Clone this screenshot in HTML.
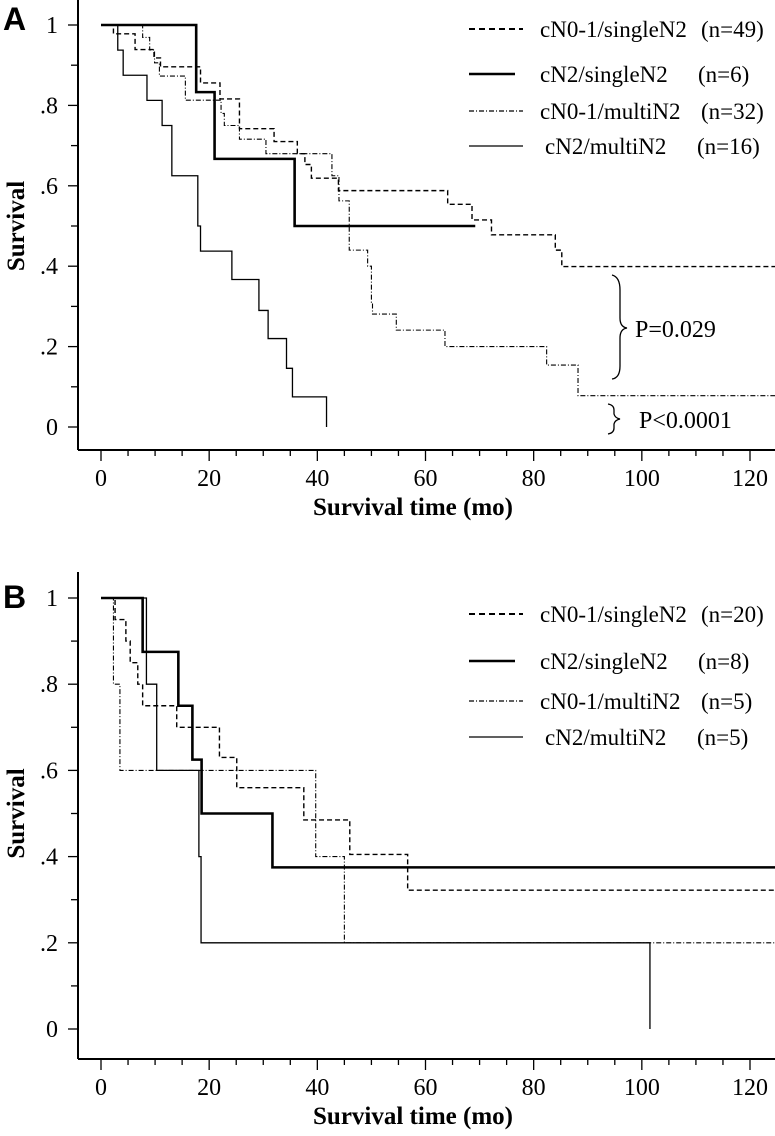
<!DOCTYPE html>
<html><head><meta charset="utf-8">
<style>
html,body{margin:0;padding:0;background:#fff;}
svg{display:block;}
text{font-family:"Liberation Serif",serif;fill:#000;}
.pl{font-family:"Liberation Sans",sans-serif;font-weight:bold;}
</style></head>
<body>
<svg id="chart" width="775" height="1136" viewBox="0 0 775 1136"></svg>
<script>
// ---- Panel A data ----
const aTickLabelsX = [0,20,40,60,80,100,120];
const aTickLabelsY = ["0",".2",".4",".6",".8","1"];
const aSinglN01_t = [0,2.3,6.3,9.8,11,18.4,22,25.6,32,36.3,37.7,38.9,43.9,64.1,68.6,72.2,84,85.2,125];
const aSinglN01_s = [1,.978,.939,.918,.896,.856,.816,.742,.71,.68,.653,.619,.588,.554,.515,.478,.44,.399,.399];
const aSingleN2_t = [0,17.6,21,35.8,69.2];
const aSingleN2_s = [1,.833,.667,.5,.5];
const aMultiN01_t = [0,7.7,9,9.9,10.8,15.6,22.2,22.8,25.6,30.5,42.7,44,45.9,49.3,50,50.2,54.6,63.6,82.4,88.2,125];
const aMultiN01_s = [1,.969,.938,.906,.873,.813,.78,.75,.716,.68,.625,.5625,.44,.40,.31,.281,.241,.2,.154,.078,.078];
const aMultiN2_t = [0,3.1,4.1,8.5,11.3,13.1,17.9,18.4,24.2,29.2,30.9,34.3,35.4,41.7,41.7];
const aMultiN2_s = [1,.9375,.875,.8125,.75,.625,.5,.4375,.367,.29,.22,.146,.075,.075,0];
// ---- Panel B data ----
const bSinglN01_t = [0,2.6,4.6,5.4,6.8,7.7,14,21.9,25.1,37.5,46,56.7,125];
const bSinglN01_s = [1,.95,.90,.85,.80,.75,.70,.63,.56,.485,.405,.322,.322];
const bSingleN2_t = [0,7.7,14.3,16.9,18.6,31.7,125];
const bSingleN2_s = [1,.875,.75,.625,.5,.375,.375];
const bMultiN01_t = [0,2.3,3.5,39.7,45,125];
const bMultiN01_s = [1,.8,.6,.4,.2,.2];
const bMultiN2_t = [0,8.4,10.3,18.1,18.5,101.5,101.5];
const bMultiN2_s = [1,.8,.6,.4,.2,.2,0];

const NS="http://www.w3.org/2000/svg";
const svg=document.getElementById('chart');
function mk(tag,attrs,parent){const e=document.createElementNS(NS,tag);for(const k in attrs)e.setAttribute(k,attrs[k]);(parent||svg).appendChild(e);return e;}

const STY={
 singN01:{w:1.4,dash:"5,3"},
 singN2:{w:2.6,dash:""},
 multN01:{w:1.1,dash:"5,2,1,2"},
 multN2:{w:1.3,dash:""}
};

function panel(cfg){
  const g=mk('g',{});
  
  
  const xs=t=>101+t*(649/120);
  const ys=s=>cfg.y0-(cfg.y0-cfg.y1)*s;
  const ya=mk('line',{x1:78,y1:cfg.axTop,x2:78,y2:cfg.axBot,stroke:'#000','stroke-width':2},g);
  
  const xa=mk('line',{x1:78,y1:cfg.axBot,x2:775,y2:cfg.axBot,stroke:'#000','stroke-width':2},g);
  
  for(let i=0;i<=10;i++){const y=ys(i/10);mk('line',{x1:i%2?71:68,y1:y,x2:78,y2:y,stroke:'#000','stroke-width':1.3},g);}
  aTickLabelsY.forEach((l,i)=>{const t=mk('text',{x:58,y:ys(i*0.2)+8,'font-size':24,'text-anchor':'end'},g);t.textContent=l;
    });
  for(let m=0;m<=120;m+=5){const x=xs(m);mk('line',{x1:x,y1:cfg.axBot,x2:x,y2:cfg.axBot+(m%20?6:11),stroke:'#000','stroke-width':1.3},g);}
  aTickLabelsX.forEach(v=>{const t=mk('text',{x:xs(v),y:cfg.axBot+36,'font-size':24,'text-anchor':'middle'},g);t.textContent=v;
    });
  const yt=mk('text',{x:0,y:0,'font-size':25,'font-weight':'bold','text-anchor':'middle',transform:`translate(24,${(cfg.y0+cfg.y1)/2}) rotate(-90)`},g);
  yt.textContent='Survival';
  const xt=mk('text',{x:413,y:cfg.axBot+65,'font-size':25,'font-weight':'bold','text-anchor':'middle'},g);
  xt.textContent='Survival time (mo)';
  const pl=mk('text',{x:3,y:cfg.letterY,'font-size':32,class:'pl'},g);pl.textContent=cfg.letter;
  
  cfg.series.forEach(s=>{
    let d='M'+xs(s.t[0])+','+ys(s.s[0]);
    for(let i=1;i<s.t.length;i++){d+=' L'+xs(s.t[i])+','+ys(s.s[i-1])+' L'+xs(s.t[i])+','+ys(s.s[i]);}
    const st=STY[s.sty];
    const p=mk('path',{d:d,fill:'none',stroke:'#000','stroke-width':st.w,'stroke-dasharray':st.dash},g);
    
  });
  cfg.legend.forEach((L,i)=>{
    const y=cfg.legY[i];const st=STY[L.sty];
    const lg=mk('g',{},g);
    
    mk('line',{x1:469,y1:y-6,x2:L.sty==='singN2'?515:523,y2:y-6,stroke:'#000','stroke-width':L.sty==='singN2'?2.6:(L.sty==='singN01'?2:1.2),'stroke-dasharray':L.sty==='singN01'?'6,4':st.dash},lg);
    const a=mk('text',{x:L.sty==='multN2'?545:540,y:y+2,'font-size':23},lg);a.textContent=L.label;
    const b=mk('text',{x:L.nx,y:y+2,'font-size':23},lg);b.textContent=L.n;
  });
}

panel({name:'panel-a',letter:'A',letterY:30,y0:427,y1:25,axTop:0,axBot:450,legY:[35,80,117,152],
 series:[
  {name:'curve-cn01-singlen2',sty:'singN01',t:aSinglN01_t,s:aSinglN01_s},
  {name:'curve-cn2-singlen2',sty:'singN2',t:aSingleN2_t,s:aSingleN2_s},
  {name:'curve-cn01-multin2',sty:'multN01',t:aMultiN01_t,s:aMultiN01_s},
  {name:'curve-cn2-multin2',sty:'multN2',t:aMultiN2_t,s:aMultiN2_s}],
 legend:[
  {sty:'singN01',label:'cN0-1/singleN2',n:'(n=49)',nx:701},
  {sty:'singN2',label:'cN2/singleN2',n:'(n=6)',nx:698},
  {sty:'multN01',label:'cN0-1/multiN2',n:'(n=32)',nx:701},
  {sty:'multN2',label:'cN2/multiN2',n:'(n=16)',nx:697}]
});
panel({name:'panel-b',letter:'B',letterY:608,y0:1029,y1:598,axTop:572,axBot:1059,legY:[620,667,707,743],
 series:[
  {name:'curve-cn01-singlen2',sty:'singN01',t:bSinglN01_t,s:bSinglN01_s},
  {name:'curve-cn2-singlen2',sty:'singN2',t:bSingleN2_t,s:bSingleN2_s},
  {name:'curve-cn01-multin2',sty:'multN01',t:bMultiN01_t,s:bMultiN01_s},
  {name:'curve-cn2-multin2',sty:'multN2',t:bMultiN2_t,s:bMultiN2_s}],
 legend:[
  {sty:'singN01',label:'cN0-1/singleN2',n:'(n=20)',nx:701},
  {sty:'singN2',label:'cN2/singleN2',n:'(n=8)',nx:698},
  {sty:'multN01',label:'cN0-1/multiN2',n:'(n=5)',nx:701},
  {sty:'multN2',label:'cN2/multiN2',n:'(n=5)',nx:697}]
});

const b1=mk('path',{d:'M612,275 Q620,277 620,290 L620,318 Q620,327 627,328 Q620,329 620,338 L620,366 Q620,378 612,379',fill:'none',stroke:'#000','stroke-width':1.3});

const t1=mk('text',{x:635,y:337,'font-size':24});t1.textContent='P=0.029';

const b2=mk('path',{d:'M608,404 Q614,405 614,410 L614,414 Q615,418 620,419 Q615,420 614,424 L614,428 Q614,433 608,434',fill:'none',stroke:'#000','stroke-width':1.3});

const t2=mk('text',{x:639,y:428,'font-size':24});t2.textContent='P<0.0001';

</script>
</body></html>
